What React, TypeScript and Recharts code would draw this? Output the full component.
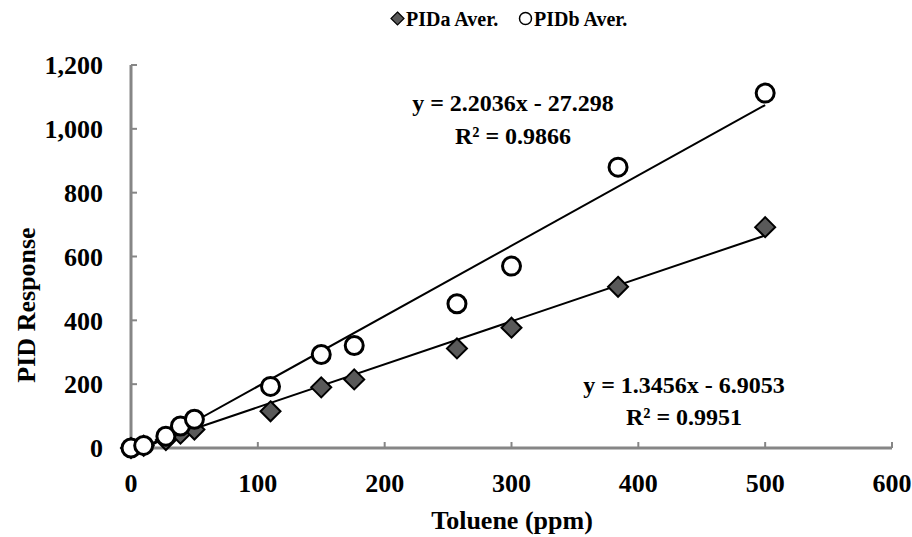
import React from 'react';
import { ComposedChart, Scatter, XAxis, YAxis, ReferenceLine } from 'recharts';

// Toluene concentration (ppm) — shared by both detectors
const toluenePpm = [0, 10, 27.5, 39, 50, 110, 150, 176, 257, 300, 384, 500];
// PIDa average response
const pidaAver = [0, 7, 25, 45, 58, 115, 190, 215, 312, 377, 505, 692];
// PIDb average response
const pidbAver = [0, 8, 37, 69, 90, 193, 293, 321, 452, 570, 880, 1112];

const xTicks = [0, 100, 200, 300, 400, 500, 600];
const yTicks = [0, 200, 400, 600, 800, 1000, 1200];

// Linear trendline end points
const trendA = [{ x: 5.1, y: 0 }, { x: 500, y: 666 }];
const trendB = [{ x: 12.4, y: 0 }, { x: 500, y: 1074.5 }];

const eqA = ['y = 1.3456x - 6.9053', 'R² = 0.9951'];
const eqB = ['y = 2.2036x - 27.298', 'R² = 0.9866'];

const dataA = toluenePpm.map((x, i) => ({ x, y: pidaAver[i] }));
const dataB = toluenePpm.map((x, i) => ({ x, y: pidbAver[i] }));

const FONT = '"Liberation Serif", "Times New Roman", serif';
const AXIS_GRAY = '#868686';

const Diamond = (props: any) => {
  const { cx, cy } = props;
  const r = 10;
  return (
    <polygon
      points={`${cx},${cy - r} ${cx + r},${cy} ${cx},${cy + r} ${cx - r},${cy}`}
      fill="#595959"
      stroke="#000"
      strokeWidth={2}
    />
  );
};

const Ring = (props: any) => {
  const { cx, cy } = props;
  return <circle cx={cx} cy={cy} r={9} fill="#fff" stroke="#000" strokeWidth={3} />;
};

const tickStyle = { fill: '#000', fontSize: 26, fontWeight: 'bold', fontFamily: FONT };

const textBase: React.CSSProperties = {
  position: 'absolute',
  fontFamily: FONT,
  fontWeight: 'bold',
  color: '#000',
  whiteSpace: 'nowrap',
  lineHeight: 1,
};

export default function App() {
  return (
    <div style={{ position: 'absolute', left: 0, top: 0, width: 912, height: 537, background: '#fff' }}>
      <ComposedChart
        width={912}
        height={537}
        margin={{ top: 65, right: 20, bottom: 29, left: 0 }}
      >
        <XAxis
          type="number"
          dataKey="x"
          domain={[0, 600]}
          ticks={xTicks}
          interval={0}
          tickSize={-6}
          tickMargin={32}
          height={60}
          axisLine={{ stroke: AXIS_GRAY, strokeWidth: 3 }}
          tickLine={{ stroke: AXIS_GRAY, strokeWidth: 2 }}
          tick={tickStyle}
        />
        <XAxis
          xAxisId="top"
          orientation="top"
          type="number"
          domain={[0, 600]}
          height={0}
          tick={false}
          tickLine={false}
          axisLine={{ stroke: '#404040', strokeWidth: 2 }}
        />
        <YAxis
          type="number"
          dataKey="y"
          domain={[0, 1200]}
          ticks={yTicks}
          interval={0}
          tickSize={-6}
          tickMargin={34}
          width={131}
          axisLine={{ stroke: AXIS_GRAY, strokeWidth: 3 }}
          tickLine={{ stroke: AXIS_GRAY, strokeWidth: 2 }}
          tick={tickStyle}
          tickFormatter={(v: number) => v.toLocaleString('en-US')}
        />
        <YAxis
          yAxisId="right"
          orientation="right"
          type="number"
          domain={[0, 1200]}
          width={0}
          tick={false}
          tickLine={false}
          axisLine={{ stroke: '#404040', strokeWidth: 2 }}
        />
        <Scatter name="PIDa Aver." data={dataA} shape={<Diamond />} isAnimationActive={false} />
        <Scatter name="PIDb Aver." data={dataB} shape={<Ring />} isAnimationActive={false} />
        <ReferenceLine segment={trendA} stroke="#000" strokeWidth={2} ifOverflow="visible" />
        <ReferenceLine segment={trendB} stroke="#000" strokeWidth={2} ifOverflow="visible" />
      </ComposedChart>

      {/* Legend */}
      <svg style={{ position: 'absolute', left: 390, top: 11 }} width={15} height={15}>
        <polygon points="7.5,1 14,7.5 7.5,14 1,7.5" fill="#595959" stroke="#000" strokeWidth={1.2} />
      </svg>
      <div style={{ ...textBase, left: 406, top: 9, fontSize: 20 }}>PIDa Aver.</div>
      <svg style={{ position: 'absolute', left: 518, top: 11 }} width={15} height={15}>
        <circle cx={7.5} cy={7.5} r={6} fill="#fff" stroke="#000" strokeWidth={1.5} />
      </svg>
      <div style={{ ...textBase, left: 534, top: 9, fontSize: 20 }}>PIDb Aver.</div>

      {/* Trendline equations */}
      <div style={{ ...textBase, left: 393, width: 240, top: 87, fontSize: 24, textAlign: 'center', lineHeight: '33px' }}>
        <div>{eqB[0]}</div>
        <div>{eqB[1]}</div>
      </div>
      <div style={{ ...textBase, left: 564, width: 240, top: 369, fontSize: 24, textAlign: 'center', lineHeight: '32px' }}>
        <div>{eqA[0]}</div>
        <div>{eqA[1]}</div>
      </div>

      {/* Axis titles */}
      <div style={{ ...textBase, left: 512, top: 521, fontSize: 26, transform: 'translate(-50%, -50%)' }}>
        Toluene (ppm)
      </div>
      <div
        style={{
          ...textBase,
          left: 27,
          top: 305,
          fontSize: 26,
          transform: 'translate(-50%, -50%) rotate(-90deg)',
        }}
      >
        PID Response
      </div>
    </div>
  );
}
